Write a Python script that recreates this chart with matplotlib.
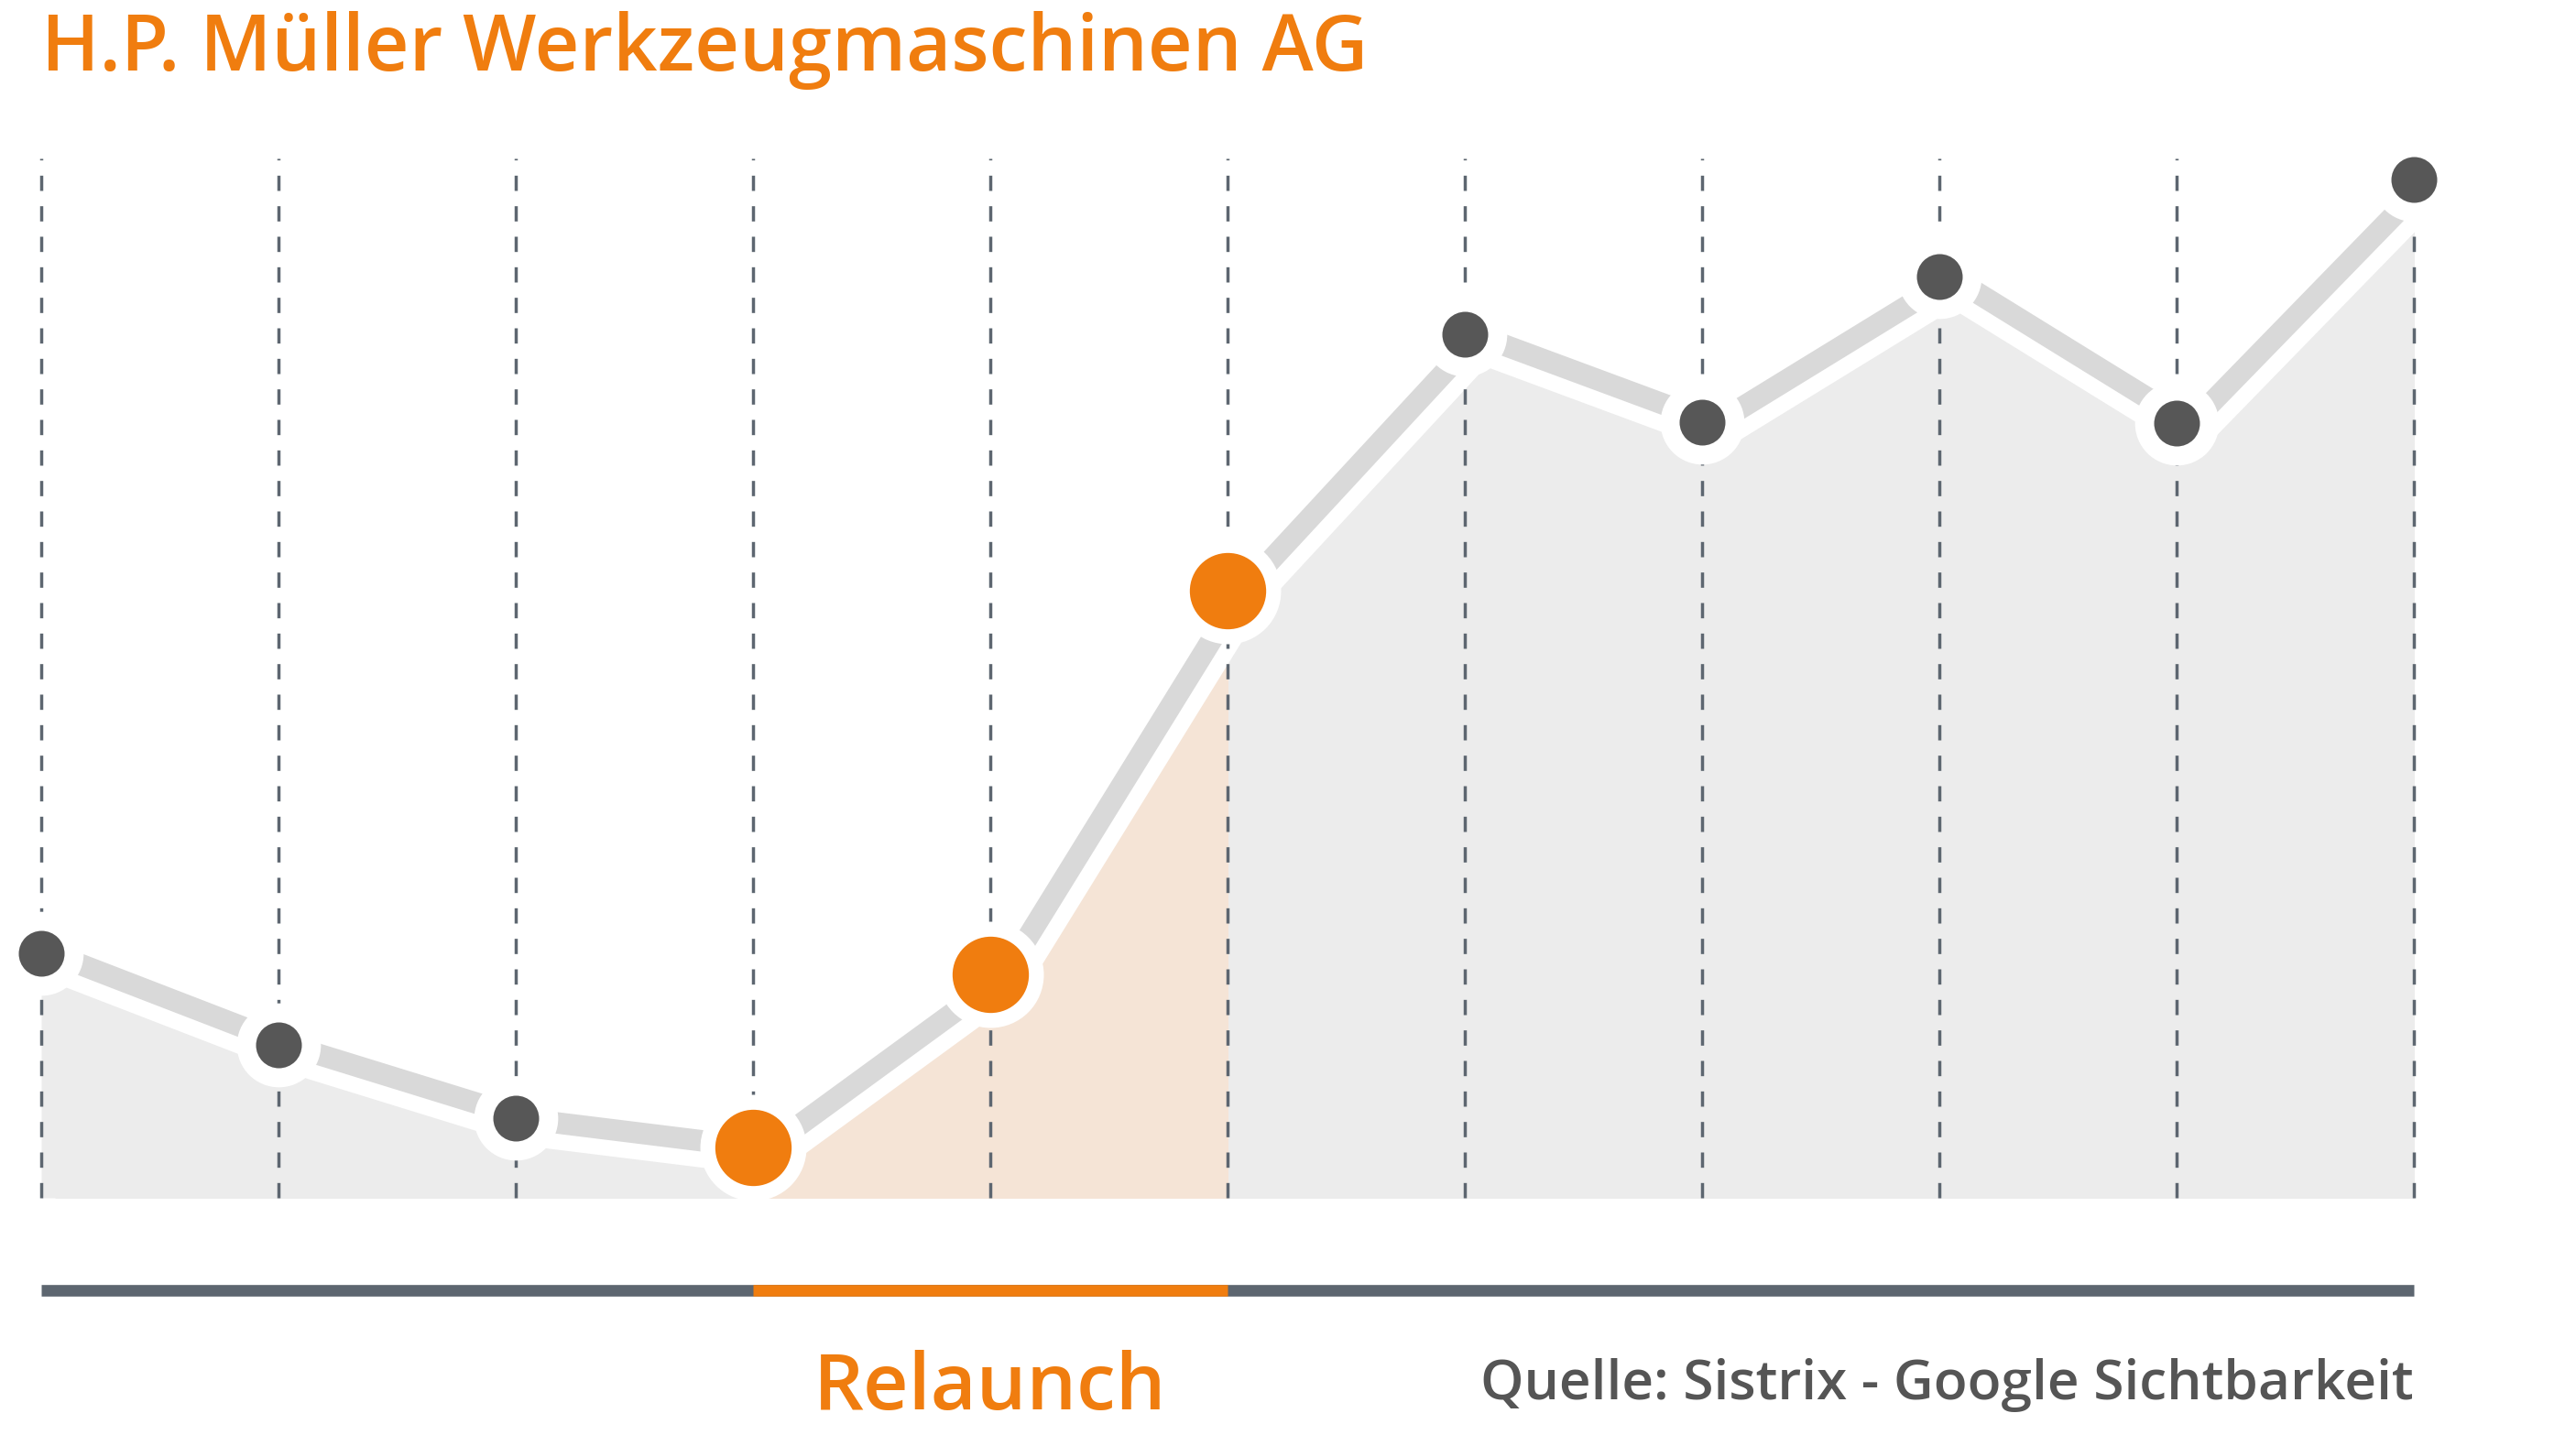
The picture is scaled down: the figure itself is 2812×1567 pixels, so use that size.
import numpy as np
import matplotlib.pyplot as plt
from matplotlib.patches import Rectangle
from matplotlib.transforms import offset_copy, blended_transform_factory

plt.rcParams["lines.scale_dashes"] = False

# ── Daten ─────────────────────────────────────────────
monate = np.arange(11)
sichtbarkeit = [26.7, 16.7, 8.7, 5.5, 24.4, 66.3, 94.3, 84.7, 100.6, 84.6, 111.2]
relaunch_von, relaunch_bis = 3, 5

titel = "H.P. Müller Werkzeugmaschinen AG"
relaunch_text = "Relaunch"
quelle = "Quelle: Sistrix - Google Sichtbarkeit"

# ── Farben ────────────────────────────────────────────
ORANGE = "#f07d0f"
DUNKEL = "#575757"
FLAECHE = "#ececec"
PFIRSICH = "#f5e4d6"
LINIE = "#d9d9d9"
RASTER = "#5d6670"
SCHRIFT = "#555555"
FONT = "Open Sans"

# ── Figur (1 Dateneinheit x = 259 px, y = 10 px) ──────
W, H = 2812, 1567
fig = plt.figure(figsize=(W / 100, H / 100), dpi=100)
ax = fig.add_axes([0, 0, 1, 1])
ax.axis("off")

# Linie leicht nach rechts versetzt (wie im Original)
versatz = offset_copy(ax.transData, fig=fig, x=15, y=-1.5, units="dots")

# Flächen unter der Linie
for farbe, (x0, x1) in [(FLAECHE, (0, 10)), (PFIRSICH, (relaunch_von, relaunch_bis))]:
    for tr in (ax.transData, versatz):
        poly = ax.fill_between(monate, sichtbarkeit, 0, color=farbe, lw=0,
                               transform=tr, zorder=1)
        poly.set_clip_path(Rectangle((x0, 0), x1 - x0, 200, transform=ax.transData))

# Weiße Kontur + graue Linie
ax.plot(monate, sichtbarkeit, color="white", lw=41.8, transform=versatz,
        solid_capstyle="butt", solid_joinstyle="round", zorder=2)
ax.plot(monate, sichtbarkeit, color=LINIE, lw=16.9, transform=versatz,
        solid_capstyle="butt", solid_joinstyle="round", zorder=3)

# Gestrichelte senkrechte Linien
ax.vlines(monate, 0, 113.5, colors=RASTER, lw=2.5,
          linestyles=(0, (12, 12)), zorder=4)

# Punkte
ist_relaunch = (monate >= relaunch_von) & (monate <= relaunch_bis)
y = np.array(sichtbarkeit)
ax.plot(monate[~ist_relaunch], y[~ist_relaunch], "o", ms=66, color="white", mew=0, zorder=5)
ax.plot(monate[~ist_relaunch], y[~ist_relaunch], "o", ms=36, color=DUNKEL, mew=0, zorder=6)
ax.plot(monate[ist_relaunch], y[ist_relaunch], "o", ms=83.5, color="white", mew=0, zorder=5)
ax.plot(monate[ist_relaunch], y[ist_relaunch], "o", ms=60, color=ORANGE, mew=0, zorder=6)

# Zeitleiste unten
ax.plot([0, 10], [-10.05, -10.05], color=RASTER, lw=9.1, solid_capstyle="butt", zorder=2)
ax.plot([relaunch_von, relaunch_bis], [-10.05, -10.05], color=ORANGE, lw=9.1,
        solid_capstyle="butt", zorder=3)

ax.set_xlim(-45 / 259, (W - 45) / 259)
ax.set_ylim(-25.9, 130.8)

# ── Texte ─────────────────────────────────────────────
unten = blended_transform_factory(ax.transData, fig.transFigure)
fig.text(45 / W, 1 - 77 / H, titel, color=ORANGE, fontsize=61, family=FONT,
         weight="semibold", ha="left", va="baseline")
ax.text((relaunch_von + relaunch_bis) / 2, 1 - 1538.6 / H, relaunch_text, color=ORANGE,
        fontsize=62, family=FONT, weight="semibold", ha="center", va="baseline",
        transform=unten)
ax.text(10, 1 - 1527.6 / H, quelle, color=SCHRIFT, fontsize=43.5, family=FONT,
        weight="semibold", ha="right", va="baseline", transform=unten)

fig.savefig("out.png", dpi=100)
